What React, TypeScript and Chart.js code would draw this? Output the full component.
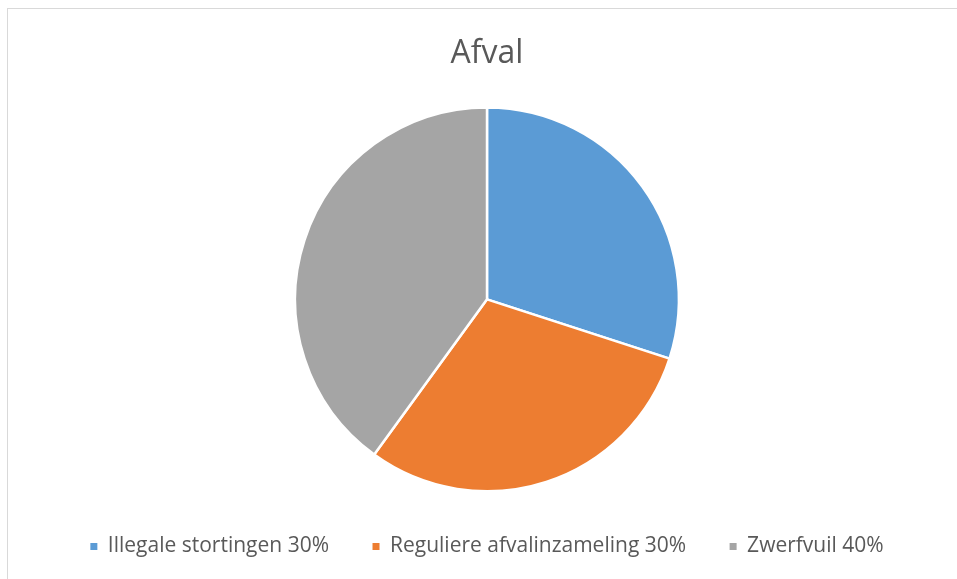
import React, { useEffect, useRef } from "react";
import { Chart, registerables } from "chart.js";

Chart.register(...registerables);

const categories = ["Illegale stortingen 30%", "Reguliere afvalinzameling 30%", "Zwerfvuil 40%"];
const values = [30, 30, 40];
const colors = ["#5B9BD5", "#ED7D31", "#A5A5A5"];
const titleText = "Afval";

export default function App() {
  const ref = useRef<HTMLCanvasElement | null>(null);
  useEffect(() => {
    if (!ref.current) return;
    const defaultGen = (Chart as any).overrides.pie.plugins.legend.labels.generateLabels;
    const chart = new Chart(ref.current, {
      type: "pie",
      data: {
        labels: categories,
        datasets: [
          {
            data: values,
            backgroundColor: colors,
            borderColor: "#ffffff",
            borderWidth: 2.5,
          },
        ],
      },
      options: {
        animation: false,
        responsive: false,
        maintainAspectRatio: false,
        layout: { padding: 0 },
        plugins: {
          title: {
            display: true,
            text: titleText,
            color: "#595959",
            font: { family: "'Open Sans', sans-serif", size: 32, weight: "normal" },
            padding: { top: 26, bottom: 32.8 },
          },
          legend: {
            position: "bottom",
            labels: {
              color: "#595959",
              font: { family: "'Open Sans', sans-serif", size: 21 },
              boxWidth: 7,
              boxHeight: 7,
              padding: 43.5,
              generateLabels: (c: any) =>
                defaultGen(c).map((l: any) => ({ ...l, lineWidth: 0, strokeStyle: l.fillStyle })),
            },
          },
          tooltip: { enabled: false },
        },
      },
    });
    return () => chart.destroy();
  }, []);
  return (
    <div
      style={{
        position: "fixed",
        left: 7,
        top: 8,
        width: 980,
        height: 600,
        overflow: "hidden",
        borderTop: "1px solid #d9d9d9",
        borderLeft: "1px solid #d9d9d9",
        background: "#ffffff",
      }}
    >
      <canvas ref={ref} width={958} height={558} style={{ display: "block" }} />
    </div>
  );
}
